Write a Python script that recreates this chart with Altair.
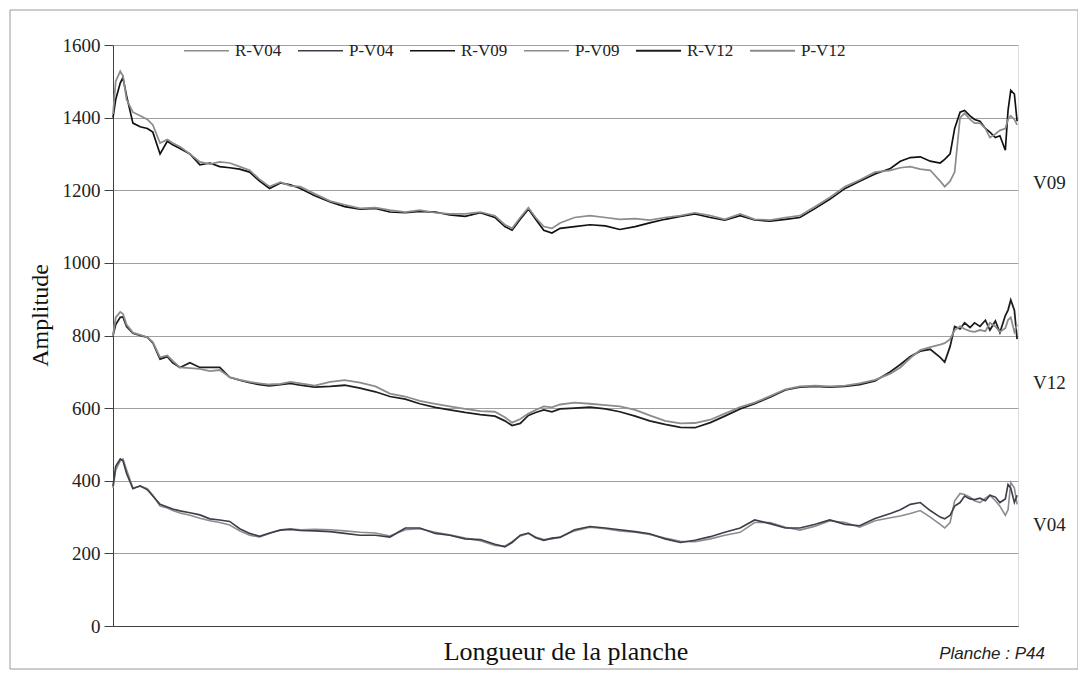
import altair as alt
import pandas as pd

# Position along the plank (percent of length)
pos = [0.0, 0.3, 0.8, 1.1, 1.5, 2.2, 3.0, 3.8, 4.4, 5.2, 6.0, 6.6, 7.4, 8.5, 9.6, 10.7, 11.8, 12.9,
       14.0, 15.1, 16.2, 17.3, 18.5, 19.6, 20.7, 22.3, 24.0, 25.6, 27.3, 29.0, 30.6, 32.3, 33.9, 35.6,
       37.2, 38.9, 40.6, 42.2, 43.3, 44.1, 45.0, 45.9, 46.7, 47.6, 48.5, 49.4, 51.0, 52.7, 54.4, 56.0,
       57.7, 59.3, 61.0, 62.7, 64.3, 66.0, 67.6, 69.3, 70.9, 72.6, 74.3, 75.9, 77.6, 79.2, 80.9, 82.5,
       84.2, 85.9, 87.0, 88.1, 89.2, 90.3, 91.4, 91.9, 92.5, 93.0, 93.6, 94.1, 94.7, 95.2, 95.8, 96.4,
       96.9, 97.5, 98.0, 98.6, 98.9, 99.2, 99.6, 99.9]

r_v09 = [1400, 1450, 1495, 1510, 1460, 1385, 1375, 1370, 1360, 1300, 1335, 1325, 1315, 1300, 1270, 1275,
         1265, 1262, 1258, 1250, 1225, 1205, 1220, 1215, 1205, 1185, 1168, 1155, 1148, 1150, 1140, 1138,
         1142, 1140, 1132, 1128, 1138, 1125, 1100, 1090, 1120, 1148, 1120, 1090, 1082, 1095, 1100, 1105,
         1102, 1092, 1100, 1110, 1120, 1128, 1135, 1125, 1118, 1130, 1118, 1115, 1120, 1125, 1150, 1175,
         1205, 1225, 1245, 1260, 1280, 1290, 1292, 1280, 1275, 1285, 1300, 1370, 1415, 1420, 1405, 1395,
         1390, 1370, 1360, 1345, 1350, 1310, 1420, 1475, 1465, 1390]
p_v09 = [1410, 1500, 1528, 1515, 1450, 1415, 1405, 1395, 1380, 1330, 1340, 1330, 1320, 1300, 1278, 1272,
         1278, 1275, 1265, 1255, 1230, 1210, 1222, 1212, 1210, 1190, 1170, 1160, 1150, 1152, 1145, 1140,
         1145, 1138, 1135, 1135, 1140, 1130, 1105, 1095, 1125, 1152, 1125, 1100, 1095, 1110, 1125, 1130,
         1125, 1120, 1122, 1118, 1125, 1130, 1138, 1130, 1120, 1135, 1120, 1118, 1125, 1130, 1155, 1180,
         1210, 1228, 1250, 1255, 1262, 1265, 1258, 1255, 1225, 1210, 1225, 1250, 1400, 1412, 1395, 1385,
         1385, 1370, 1345, 1355, 1365, 1370, 1395, 1405, 1395, 1380]
r_v12 = [800, 830, 850, 851, 825, 806, 800, 795, 780, 735, 742, 725, 712, 725, 712, 712,
         712, 685, 677, 670, 665, 661, 665, 668, 663, 658, 660, 663, 655, 645, 632, 625,
         612, 602, 595, 588, 582, 578, 565, 552, 558, 580, 588, 595, 590, 598, 600, 603,
         598, 590, 578, 565, 555, 547, 546, 560, 578, 598, 612, 630, 650, 658, 660, 658,
         660, 665, 675, 700, 720, 742, 757, 762, 740, 727, 770, 825, 818, 835, 822, 835,
         825, 842, 815, 840, 808, 855, 870, 898, 870, 790]
p_v12 = [800, 850, 865, 860, 830, 808, 802, 795, 782, 740, 745, 730, 712, 710, 708, 702,
         705, 685, 678, 672, 668, 665, 667, 672, 668, 662, 672, 677, 670, 660, 640, 632,
         620, 612, 605, 598, 592, 590, 575, 560, 570, 585, 595, 605, 602, 610, 615, 612,
         608, 605, 595, 580, 565, 558, 559, 568, 585, 603, 615, 633, 652, 660, 662, 660,
         662, 668, 678, 695, 712, 738, 760, 768, 775, 779, 790, 815, 825, 818, 812, 810,
         815, 812, 835, 825, 810, 820, 843, 850, 810, 830]
r_v04 = [380, 430, 455, 460, 430, 380, 385, 378, 360, 330, 325, 318, 311, 305, 297, 290,
         285, 278, 262, 250, 245, 255, 265, 268, 265, 266, 265, 262, 258, 256, 248, 265,
         268, 258, 251, 242, 235, 222, 220, 232, 248, 255, 245, 238, 240, 245, 262, 272,
         268, 262, 258, 252, 242, 233, 232, 240, 250, 258, 285, 285, 272, 264, 275, 290,
         285, 272, 290, 298, 303, 310, 318, 300, 280, 270, 285, 345, 365, 362, 355, 345,
         340, 352, 360, 345, 330, 305, 320, 395, 380, 335]
p_v04 = [385, 440, 460, 455, 420, 378, 386, 375, 358, 335, 328, 322, 317, 312, 306, 295,
         292, 288, 268, 255, 247, 256, 264, 266, 263, 262, 260, 255, 250, 250, 245, 270,
         270, 255, 250, 240, 238, 225, 218, 230, 250, 256, 243, 236, 242, 244, 265, 274,
         270, 265, 260, 254, 240, 230, 236, 246, 258, 270, 292, 282, 270, 270, 280, 292,
         280, 276, 296, 310, 320, 335, 340, 318, 300, 295, 305, 330, 340, 358, 350, 348,
         352, 345, 360, 355, 340, 350, 390, 380, 340, 360]

series_names = ["R-V04", "P-V04", "R-V09", "P-V09", "R-V12", "P-V12"]
series_vals = [r_v04, p_v04, r_v09, p_v09, r_v12, p_v12]
series_colors = ["#8c8c8c", "#3a3f4a", "#111111", "#8c8c8c", "#1e1e1e", "#8c8c8c"]
series_widths = [1.6, 1.8, 2.0, 1.3, 2.0, 1.3]

side_labels = ["V09", "V12", "V04"]
side_label_y = [1220, 669, 278]

rows = []
for name, vals in zip(series_names, series_vals):
    for x, v in zip(pos, vals):
        rows.append({"pos": x, "amp": v, "serie": name})
df = pd.DataFrame(rows)
lab_df = pd.DataFrame({"lab": side_labels, "amp": side_label_y})

W, H = 905, 581
SERIF = "Liberation Serif"

lines = alt.Chart(df).mark_line(interpolate="linear").encode(
    x=alt.X("pos:Q", scale=alt.Scale(domain=[0, 100], nice=False, zero=False),
            axis=alt.Axis(title="Longueur de la planche", labels=False, ticks=False, grid=False,
                          domainColor="#404040", titleFont=SERIF, titleFontSize=26,
                          titleFontWeight="normal", titleColor="#111", titlePadding=12)),
    y=alt.Y("amp:Q", scale=alt.Scale(domain=[0, 1600], nice=False),
            axis=alt.Axis(title="Amplitude", values=list(range(0, 1601, 200)), format="d",
                          grid=True, gridColor="#a0a0a0", gridWidth=1, domainColor="#404040",
                          tickColor="#404040", tickSize=9, labelFont=SERIF, labelFontSize=19,
                          labelColor="#222", labelPadding=4, titleFont=SERIF, titleFontSize=24,
                          titleFontWeight="normal", titleColor="#111", titlePadding=10,
                          titleY=270)),
    color=alt.Color("serie:N", scale=alt.Scale(domain=series_names, range=series_colors),
                    sort=series_names,
                    legend=alt.Legend(orient="none", legendX=70, legendY=-18, direction="horizontal",
                                      columns=6, title=None, symbolType="stroke", symbolSize=2025,
                                      symbolStrokeWidth=1.6, labelFont=SERIF, labelFontSize=17,
                                      labelColor="#222", labelOffset=5, columnPadding=12, padding=0)),
    strokeWidth=alt.StrokeWidth("serie:N", scale=alt.Scale(domain=series_names, range=series_widths),
                                legend=None),
    order=alt.Order("pos:Q"),
)

side = alt.Chart(lab_df).mark_text(align="left", baseline="middle", font=SERIF, fontSize=19,
                                   color="#222").encode(
    x=alt.value(W + 15), y="amp:Q", text="lab:N")

planche = alt.Chart(alt.Data(values=[{"t": "Planche : P44"}])).mark_text(
    align="right", baseline="middle", font="Liberation Sans", fontStyle="italic",
    fontSize=17, color="#222").encode(
    x=alt.value(932), y=alt.value(H + 28), text="t:N")

frame = alt.Chart(alt.Data(values=[{}])).mark_rect(fill=None, stroke="#9a9a9a", strokeWidth=1).encode(
    x=alt.value(-103), x2=alt.value(965), y=alt.value(-35), y2=alt.value(H + 43))

chart = alt.layer(frame, lines, side, planche).properties(
    width=W, height=H, autosize=alt.AutoSizeParams(type="none"),
    padding={"left": 105, "top": 37, "right": 60, "bottom": 45},
).configure_view(stroke="#808080").configure(background="white")

chart.save("out.html", embed_options={"renderer": "svg", "actions": False})
